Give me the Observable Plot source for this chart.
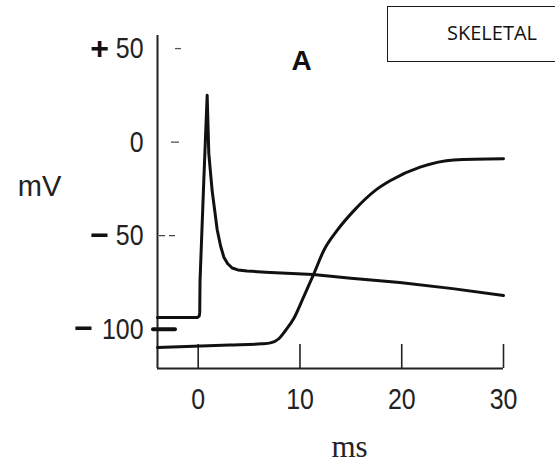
<!DOCTYPE html>
<html><head><meta charset="utf-8">
<script src="https://cdn.jsdelivr.net/npm/d3@7"></script>
<script src="https://cdn.jsdelivr.net/npm/@observablehq/plot@0.6"></script>
<style>
html,body{margin:0;padding:0;background:#fff;overflow:hidden;}
#wrap{position:relative;width:555px;height:472px;overflow:hidden;}
#wrap svg{position:absolute;left:0;top:0;}
#box{position:absolute;left:387px;top:6px;width:230px;height:56px;border:1.5px solid #1a1a1a;box-sizing:border-box;background:#fff;}
#box span{position:absolute;left:0;width:208px;top:14px;line-height:24px;text-align:center;font-family:"Open Sans",sans-serif;font-size:20px;color:#111;}
</style></head>
<body><div id="wrap"><div id="box"><span id="boxText"></span></div></div>
<script>
// ---- data ----
const panelTitle = "SKELETAL";
const panelLetter = "A";
const xLabel = "ms";
const yLabel = "mV";
const xDomain = [-4, 30];
const yDomain = [-121, 57];
const xTicks = [0, 10, 20, 30];
const yTicks = [50, 0, -50, -100];

// action potential (ms, mV)
const apMs = [-4, -0.1, 0.1, 0.15, 0.18, 0.55, 0.88, 1.04, 1.37, 1.87, 2.2, 2.52, 2.9, 3.34, 3.9, 4.8, 6.6, 11.3, 15, 19.8, 25, 30];
const apMv = [-93.8, -93.8, -93, -91, -74, -20.5, 25, -6, -26, -47, -55.5, -61.5, -65, -67.3, -68.3, -68.9, -69.5, -70.8, -72.8, -75, -78.3, -82];

// contraction (twitch) curve, plotted on the same axes
const twMs = [-4, 3.1, 6.2, 7.1, 7.92, 8.58, 9.39, 10.45, 11.36, 12.34, 13.65, 15.3, 17.6, 18.9, 21.8, 25.1, 30];
const twMv = [-109.8, -108.5, -107.8, -107.3, -105.1, -100.7, -94.3, -81.6, -70.4, -57.9, -47.2, -36.6, -25, -20.5, -13.4, -9.5, -8.9];

const ap = apMs.map((x, i) => ({ms: x, mV: apMv[i]}));
const tw = twMs.map((x, i) => ({ms: x, mV: twMv[i]}));

const numFont = '"Liberation Sans", Arial, sans-serif';
const ink = "#222";

const sign = d => d > 0 ? "+" : (d < 0 ? "\u2212" : "");
const signed2 = yTicks.filter(d => d !== 0 && String(Math.abs(d)).length === 2);
const signed3 = yTicks.filter(d => d !== 0 && String(Math.abs(d)).length === 3);

document.getElementById("boxText").textContent = panelTitle;

const chart = Plot.plot({
  width: 555,
  height: 472,
  marginLeft: 157,
  marginRight: 52,
  marginTop: 35,
  marginBottom: 104,
  x: {domain: xDomain, axis: null, label: null},
  y: {domain: yDomain, axis: null, label: null},
  style: {background: "transparent", color: ink},
  marks: [
    // axis lines
    Plot.ruleX([xDomain[0]], {stroke: ink, strokeWidth: 2}),
    Plot.ruleY([yDomain[0]], {stroke: ink, strokeWidth: 2}),
    // x ticks pointing up
    Plot.axisX({ticks: xTicks, anchor: "bottom", label: null, tickSize: -24, tickFormat: () => "", stroke: ink, strokeWidth: 1.6}),
    // x tick labels
    Plot.text(xTicks, {x: d => d, frameAnchor: "bottom", dy: 31, lineAnchor: "middle", textAnchor: "middle", text: d => String(d), fontSize: 30, fontFamily: numFont, fill: ink}),
    // y tick marks (as in the scanned figure)
    Plot.axisY({ticks: [50], anchor: "left", label: null, tickSize: -6, dx: 18, tickFormat: () => "", stroke: "#555", strokeWidth: 1.3}),
    Plot.axisY({ticks: [0], anchor: "left", label: null, tickSize: -8, dx: 14, tickFormat: () => "", stroke: "#555", strokeWidth: 1.3}),
    Plot.axisY({ticks: [-50], anchor: "left", label: null, tickSize: -20, dx: 2, tickFormat: () => "", stroke: "#444", strokeWidth: 1.3, strokeDasharray: "6,4"}),
    Plot.axisY({ticks: [-100], anchor: "left", label: null, tickSize: -22, dx: -4, tickFormat: () => "", stroke: "#111", strokeWidth: 4, strokeLinecap: "round"}),
    // y tick labels
    Plot.text(yTicks, {y: d => d, frameAnchor: "left", text: d => String(Math.abs(d)), textAnchor: "end", lineAnchor: "middle", dx: -14, fontSize: 30, fontFamily: numFont, fill: ink}),
    Plot.text(signed2, {y: d => d, frameAnchor: "left", text: sign, textAnchor: "middle", lineAnchor: "middle", dx: -58, fontSize: 32, fontWeight: "bold", fontFamily: numFont, fill: "#111"}),
    Plot.text(signed3, {y: d => d, frameAnchor: "left", text: sign, textAnchor: "middle", lineAnchor: "middle", dx: -74, fontSize: 32, fontWeight: "bold", fontFamily: numFont, fill: "#111"}),
    // axis titles
    Plot.text([yLabel], {frameAnchor: "left", textAnchor: "middle", lineAnchor: "middle", dx: -118, dy: -15, fontSize: 29, fontFamily: numFont, fill: ink}),
    Plot.text([xLabel], {frameAnchor: "bottom", textAnchor: "middle", lineAnchor: "middle", dx: 19, dy: 79, fontSize: 31, fontFamily: '"Liberation Serif", serif', fill: ink}),
    // panel letter
    Plot.text([panelLetter], {frameAnchor: "top-left", textAnchor: "middle", lineAnchor: "middle", dx: 144, dy: 26, fontSize: 28, fontWeight: "bold", fontFamily: numFont, fill: "#111"}),
    // curves
    Plot.line(ap, {x: "ms", y: "mV", stroke: "#111", strokeWidth: 3, curve: "linear", strokeLinejoin: "round"}),
    Plot.line(tw, {x: "ms", y: "mV", stroke: "#111", strokeWidth: 3, curve: "monotone-x"})
  ]
});

document.getElementById("wrap").prepend(chart);

// narrow the tick numbers horizontally (the original uses a condensed face)
const numLabels = new Set([...xTicks, ...yTicks].map(d => String(Math.abs(d))));
chart.querySelectorAll("text").forEach(t => {
  if (!numLabels.has(t.textContent.trim())) return;
  const w = t.getComputedTextLength();
  if (w > 0) {
    t.setAttribute("textLength", (w * 0.83).toFixed(2));
    t.setAttribute("lengthAdjust", "spacingAndGlyphs");
  }
});
</script>
</body></html>
